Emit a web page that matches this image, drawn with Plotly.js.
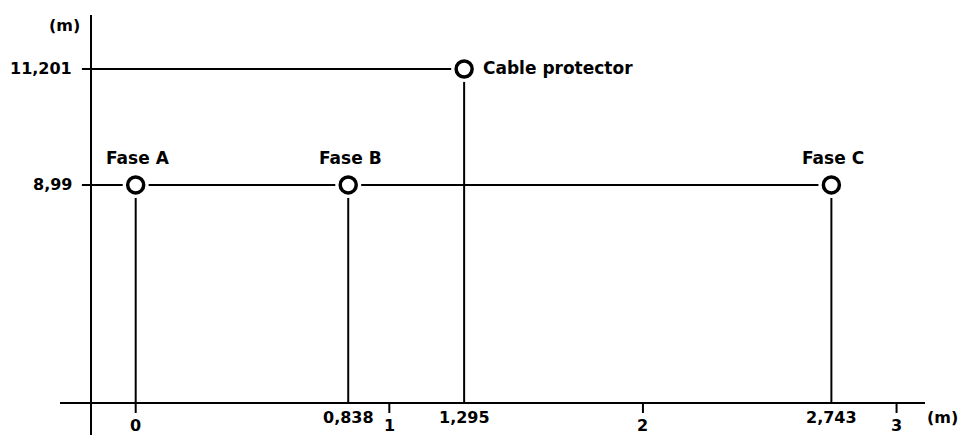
<!DOCTYPE html>
<html>
<head>
<meta charset="utf-8">
<script src="https://cdn.plot.ly/plotly-3.0.1.min.js"></script>
<style>html,body{margin:0;padding:0;background:#fff;}#chart{width:962px;height:435px;}</style>
</head>
<body>
<div id="chart"></div>
<script>
// ---- data ----
const pointNames = ['Fase A', 'Fase B', 'Cable protector', 'Fase C'];
const pointX = [0, 0.838, 1.295, 2.743];
const pointY = [8.99, 8.99, 11.201, 8.99];
const pointXLabels = ['0', '0,838', '1,295', '2,743'];
const intTicks = [1, 2, 3];
const intTickLabels = ['1', '2', '3'];
const yTickVals = [11.201, 8.99];
const yTickLabels = ['11,201', '8,99'];
const unitLabel = '(m)';

// ---- layout constants ----
const X_RANGE = [-0.535, 3.258];
const Y_RANGE = [4.224, 12.516];
const AXIS_Y = 4.834;      // where the horizontal axis line sits
const LEAD_X = -0.212;     // where the horizontal leader lines start (left of y axis)
const TICK_LEN = 0.19;     // tick length below axis, in y units
const FONT = 'DejaVu Sans, Verdana, sans-serif';

const traces = [];
// horizontal leader lines: one per level, from left to farthest point at that level
const levels = [...new Set(pointY)];
levels.forEach(lv => {
  const xs = pointX.filter((x, i) => pointY[i] === lv);
  traces.push({x: [LEAD_X, Math.max(...xs)], y: [lv, lv], mode: 'lines',
    line: {color: '#000', width: 2}, hoverinfo: 'skip', showlegend: false});
});
// vertical drop lines
pointX.forEach((x, i) => {
  traces.push({x: [x, x], y: [pointY[i], AXIS_Y], mode: 'lines',
    line: {color: '#000', width: 2}, hoverinfo: 'skip', showlegend: false});
});
// tick at 0 and integer ticks
[0].concat(intTicks).forEach(t => {
  traces.push({x: [t, t], y: [AXIS_Y, AXIS_Y - TICK_LEN], mode: 'lines',
    line: {color: '#000', width: 2}, hoverinfo: 'skip', showlegend: false});
});
// white halo to break lines around markers
traces.push({x: pointX, y: pointY, mode: 'markers',
  marker: {size: 26, color: '#fff', line: {width: 0}}, hoverinfo: 'skip', showlegend: false});
// ring markers
traces.push({x: pointX, y: pointY, mode: 'markers', text: pointNames,
  marker: {size: 16, color: '#fff', line: {color: '#000', width: 3.5}}, showlegend: false});

const annotations = [];
const lblFont = {family: FONT, size: 17, color: '#000', weight: 'bold'};
const numFont = {family: FONT, size: 16, color: '#000', weight: 'bold'};
pointNames.forEach((n, i) => {
  const right = n === 'Cable protector';
  annotations.push({x: pointX[i], y: pointY[i], xref: 'x', yref: 'y', text: '<b>' + n + '</b>',
    showarrow: false, font: lblFont,
    xanchor: right ? 'left' : 'center', yanchor: 'middle',
    xshift: right ? 17 : 2, yshift: right ? 1 : 27});
});
// x labels of the points
pointXLabels.forEach((t, i) => {
  const isInt = Number.isInteger(pointX[i]);
  annotations.push({x: pointX[i], y: 0, xref: 'x', yref: 'paper', text: '<b>' + t + '</b>',
    showarrow: false, font: numFont, xanchor: 'center', yanchor: 'middle',
    yshift: isInt ? 10 : 18});
});
// integer tick labels
intTicks.forEach((t, i) => {
  annotations.push({x: t, y: 0, xref: 'x', yref: 'paper', text: '<b>' + intTickLabels[i] + '</b>',
    showarrow: false, font: numFont, xanchor: 'center', yanchor: 'middle', yshift: 10});
});
// y tick labels
yTickVals.forEach((v, i) => {
  annotations.push({x: 74 / 962, y: v, xref: 'paper', yref: 'y', text: '<b>' + yTickLabels[i] + '</b>',
    showarrow: false, font: numFont, xanchor: 'right', yanchor: 'middle', xshift: 0});
});
// unit labels
annotations.push({x: 82 / 962, y: 1 - 25 / 435, xref: 'paper', yref: 'paper', text: '<b>' + unitLabel + '</b>',
  showarrow: false, font: numFont, xanchor: 'right', yanchor: 'middle'});
annotations.push({x: 960 / 962, y: 18 / 435, xref: 'paper', yref: 'paper', text: '<b>' + unitLabel + '</b>',
  showarrow: false, font: numFont, xanchor: 'right', yanchor: 'middle'});

const shapes = [
  // y axis line (extends below x axis)
  {type: 'line', xref: 'paper', yref: 'paper', x0: 91 / 962, x1: 91 / 962, y0: 0, y1: 1 - 15 / 435,
    line: {color: '#000', width: 2}},
  // x axis line (extends left of y axis)
  {type: 'line', xref: 'paper', yref: 'y', x0: 60 / 962, x1: 925 / 962, y0: AXIS_Y, y1: AXIS_Y,
    line: {color: '#000', width: 2}}
];

const layout = {
  width: 962, height: 435,
  margin: {l: 0, r: 0, t: 0, b: 0},
  paper_bgcolor: '#fff', plot_bgcolor: '#fff',
  xaxis: {range: X_RANGE, visible: false, showgrid: false, zeroline: false, fixedrange: true},
  yaxis: {range: Y_RANGE, visible: false, showgrid: false, zeroline: false, fixedrange: true},
  annotations: annotations,
  shapes: shapes,
  showlegend: false,
  hovermode: 'closest'
};

Plotly.newPlot('chart', traces, layout, {displayModeBar: false, staticPlot: true});
</script>
</body>
</html>
